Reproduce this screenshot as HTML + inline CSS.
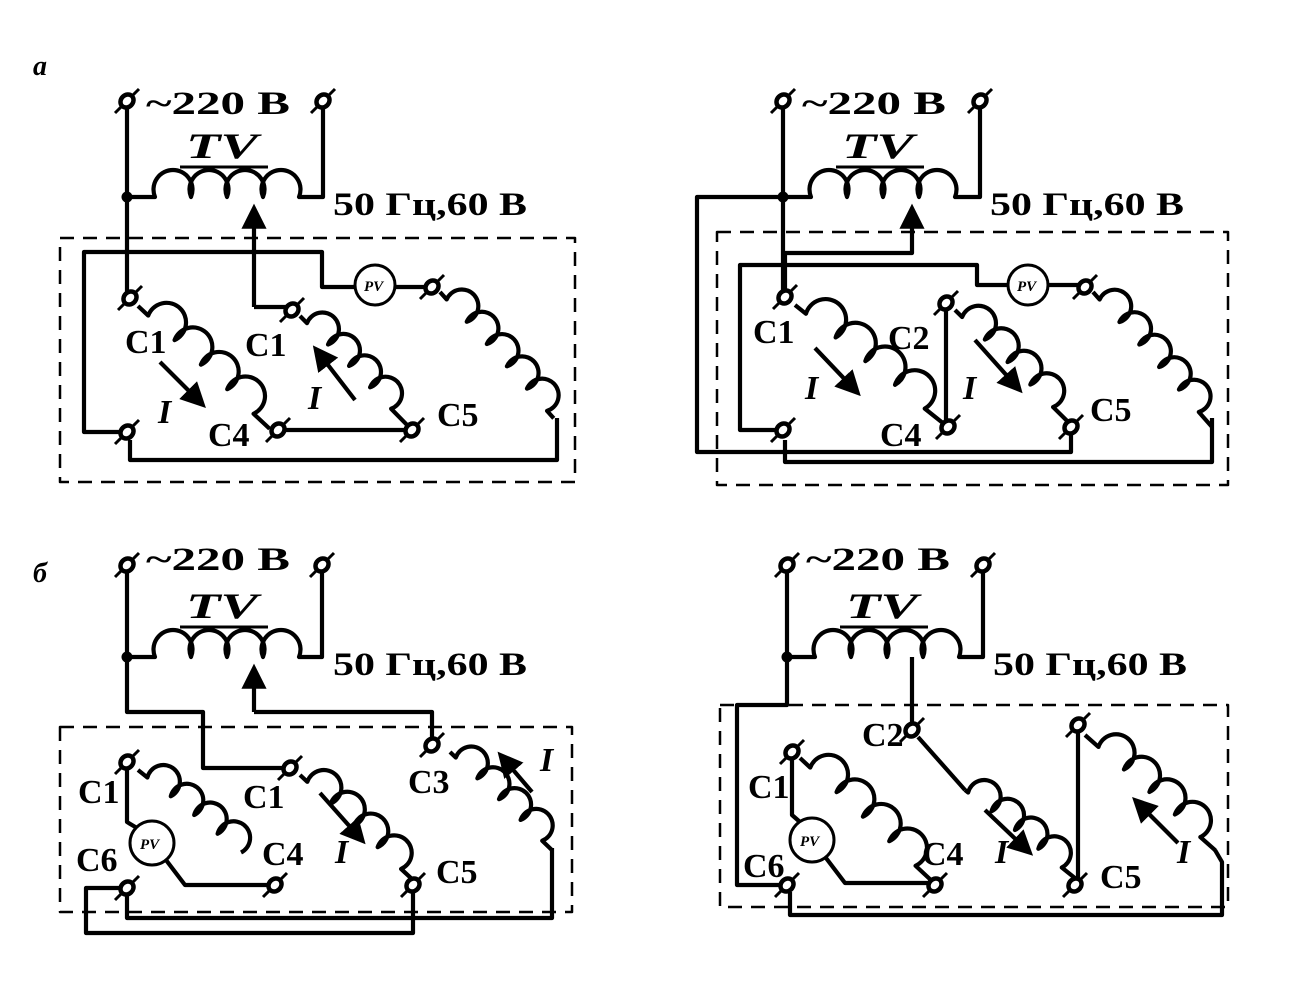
<!DOCTYPE html>
<html><head><meta charset="utf-8"><style>
html,body{margin:0;padding:0;background:#fff}
svg{display:block}
text{font-family:"Liberation Serif",serif;font-weight:bold;fill:#000}
.it{font-style:italic}
</style></head><body>
<svg width="1308" height="1008" viewBox="0 0 1308 1008" xmlns="http://www.w3.org/2000/svg">
<defs>
<marker id="ah" markerWidth="6" markerHeight="6" refX="4" refY="3" orient="auto" markerUnits="strokeWidth">
<path d="M0,0 L6,3 L0,6 z" fill="#000"/>
</marker>
<g id="t"><line x1="-12" y1="12" x2="12" y2="-12" stroke="#000" stroke-width="3"/><ellipse rx="7" ry="6" transform="rotate(-45)" fill="#fff" stroke="#000" stroke-width="4.5"/></g>
</defs>
<g fill="none" stroke="#000" stroke-width="4.2" stroke-linejoin="round">

<!-- ===== TOP LEFT ===== -->
<path d="M127,108 V297 M127,197 H155 a19.5 19.5 0 1 1 36 0 a19.5 19.5 0 1 1 36 0 a19.5 19.5 0 1 1 36 0 a19.5 19.5 0 1 1 36 0 H323 V108"/>
<path d="M254,307 V212" marker-end="url(#ah)"/>
<path d="M254,307 H290"/>
<path d="M127,432 H84 V252 H322 V287 H355 M395,287 H432"/>
<circle cx="375" cy="285" r="20" stroke-width="3"/>
<path transform="translate(440,292) rotate(48)" d="M0 0 h10 a16.5 16.5 0 1 1 30 0 a16.5 16.5 0 1 1 30 0 a16.5 16.5 0 1 1 30 0 a16.5 16.5 0 1 1 30 0 a16.5 16.5 0 1 1 30 0 h10"/>
<path d="M557,418 V460 H130 V440"/>
<path transform="translate(138,306) rotate(43)" d="M0 0 h14 a19.5 19.5 0 1 1 36 0 a19.5 19.5 0 1 1 36 0 a19.5 19.5 0 1 1 36 0 a19.5 19.5 0 1 1 36 0 h22"/>
<path transform="translate(300,316) rotate(45.5)" d="M0 0 h10 a16.5 16.5 0 1 1 30 0 a16.5 16.5 0 1 1 30 0 a16.5 16.5 0 1 1 30 0 a16.5 16.5 0 1 1 30 0 h22"/>
<path d="M278,430 H412"/>
<path d="M160,362 L200,402" marker-end="url(#ah)"/>
<path d="M355,400 L318,352" marker-end="url(#ah)"/>
<line x1="180" y1="167" x2="268" y2="167" stroke-width="3"/>
<rect x="60" y="238" width="515" height="244" stroke-width="2.5" stroke-dasharray="14 9"/>

<!-- ===== TOP RIGHT ===== -->
<path d="M783,108 V297 M783,197 H811 a19.5 19.5 0 1 1 36 0 a19.5 19.5 0 1 1 36 0 a19.5 19.5 0 1 1 36 0 a19.5 19.5 0 1 1 36 0 H980 V108"/>
<path d="M783,197 H697 V452 H1071 V432"/>
<path d="M785,297 V253 H912 V212" marker-end="url(#ah)"/>
<path d="M783,430 H740 V265 H977 V285 H1008 M1048,285 H1085"/>
<circle cx="1028" cy="285" r="20" stroke-width="3"/>
<path transform="translate(1093,292) rotate(48.6)" d="M0 0 h10 a16.5 16.5 0 1 1 30 0 a16.5 16.5 0 1 1 30 0 a16.5 16.5 0 1 1 30 0 a16.5 16.5 0 1 1 30 0 a16.5 16.5 0 1 1 30 0 h20"/>
<path d="M1212,418 V462 H785 V440"/>
<path transform="translate(795,305) rotate(38.6)" d="M0 0 h14 a20.5 20.5 0 1 1 38 0 a20.5 20.5 0 1 1 38 0 a20.5 20.5 0 1 1 38 0 a20.5 20.5 0 1 1 38 0 h26"/>
<path d="M946,303 V425"/>
<path transform="translate(955,310) rotate(44.7)" d="M0 0 h10 a17.5 17.5 0 1 1 32 0 a17.5 17.5 0 1 1 32 0 a17.5 17.5 0 1 1 32 0 a17.5 17.5 0 1 1 32 0 h25"/>
<path d="M815,348 L855,390" marker-end="url(#ah)"/>
<path d="M975,340 L1017,387" marker-end="url(#ah)"/>
<line x1="836" y1="167" x2="924" y2="167" stroke-width="3"/>
<rect x="717" y="232" width="511" height="253" stroke-width="2.5" stroke-dasharray="14 9"/>

<!-- ===== BOTTOM LEFT ===== -->
<path d="M127,572 V712 H203 V768 H285 M127,657 H155 a19.5 19.5 0 1 1 36 0 a19.5 19.5 0 1 1 36 0 a19.5 19.5 0 1 1 36 0 a19.5 19.5 0 1 1 36 0 H322 V572"/>
<path d="M254,712 V672" marker-end="url(#ah)"/>
<path d="M254,712 H432 V740"/>
<path d="M127,768 V822 L137,828"/>
<circle cx="152" cy="843" r="22" stroke-width="3"/>
<path d="M166,860 L185,885 H272"/>
<path transform="translate(138,770) rotate(38.7)" d="M0 0 h12 a16.5 16.5 0 1 1 30 0 a16.5 16.5 0 1 1 30 0 a16.5 16.5 0 1 1 30 0 a16.5 16.5 0 1 1 30 0"/>
<path transform="translate(300,775) rotate(42.9)" d="M0 0 h10 a17.5 17.5 0 1 1 32 0 a17.5 17.5 0 1 1 32 0 a17.5 17.5 0 1 1 32 0 a17.5 17.5 0 1 1 32 0 h16"/>
<path transform="translate(450,752) rotate(43.9)" d="M0 0 h8 a16.5 16.5 0 1 1 30 0 a16.5 16.5 0 1 1 30 0 a16.5 16.5 0 1 1 30 0 a16.5 16.5 0 1 1 30 0 h13"/>
<path d="M552,848 V918 H127 V895"/>
<path d="M127,888 H86 V933 H413 V890"/>
<path d="M320,793 L360,838" marker-end="url(#ah)"/>
<path d="M532,792 L503,758" marker-end="url(#ah)"/>
<line x1="180" y1="627" x2="268" y2="627" stroke-width="3"/>
<rect x="60" y="727" width="512" height="185" stroke-width="2.5" stroke-dasharray="14 9"/>

<!-- ===== BOTTOM RIGHT ===== -->
<path d="M787,572 V705 H737 V885 H783 M787,657 H815 a19.5 19.5 0 1 1 36 0 a19.5 19.5 0 1 1 36 0 a19.5 19.5 0 1 1 36 0 a19.5 19.5 0 1 1 36 0 H983 V572"/>
<path d="M912,657 V725"/>
<path d="M918,737 L965,790"/>
<path transform="translate(965,790) rotate(38.7)" d="M0 0 h4 a16.5 16.5 0 1 1 30 0 a16.5 16.5 0 1 1 30 0 a16.5 16.5 0 1 1 30 0 a16.5 16.5 0 1 1 30 0 h17"/>
<path d="M1078,730 V880"/>
<path transform="translate(1085,735) rotate(41.5)" d="M0 0 h18 a18.5 18.5 0 1 1 34 0 a18.5 18.5 0 1 1 34 0 a18.5 18.5 0 1 1 34 0 a18.5 18.5 0 1 1 34 0 h20"/>
<path d="M1215,850 L1222,862 V915 H790 V892"/>
<path d="M792,758 V815 L800,822"/>
<circle cx="812" cy="840" r="22" stroke-width="3"/>
<path d="M826,858 L845,883 H930"/>
<path transform="translate(800,758) rotate(43)" d="M0 0 h14 a19.5 19.5 0 1 1 36 0 a19.5 19.5 0 1 1 36 0 a19.5 19.5 0 1 1 36 0 a19.5 19.5 0 1 1 36 0 h20"/>
<path d="M985,810 L1027,850" marker-end="url(#ah)"/>
<path d="M1178,843 L1138,803" marker-end="url(#ah)"/>
<line x1="840" y1="627" x2="928" y2="627" stroke-width="3"/>
<rect x="720" y="705" width="508" height="202" stroke-width="2.5" stroke-dasharray="14 9"/>
</g>

<!-- junction dots -->
<g fill="#000">
<circle cx="127" cy="197" r="5.5"/><circle cx="783" cy="197" r="5.5"/>
<circle cx="127" cy="657" r="5.5"/><circle cx="787" cy="657" r="5.5"/>
</g>

<!-- terminals -->
<use href="#t" x="127" y="101"/><use href="#t" x="323" y="101"/>
<use href="#t" x="130" y="298"/><use href="#t" x="292" y="310"/>
<use href="#t" x="432" y="287"/><use href="#t" x="127" y="432"/>
<use href="#t" x="278" y="430"/><use href="#t" x="412" y="430"/>

<use href="#t" x="783" y="101"/><use href="#t" x="980" y="101"/>
<use href="#t" x="785" y="297"/><use href="#t" x="946" y="303"/>
<use href="#t" x="1085" y="287"/><use href="#t" x="783" y="430"/>
<use href="#t" x="948" y="427"/><use href="#t" x="1071" y="427"/>

<use href="#t" x="127" y="565"/><use href="#t" x="322" y="565"/>
<use href="#t" x="127" y="762"/><use href="#t" x="290" y="768"/>
<use href="#t" x="432" y="745"/><use href="#t" x="275" y="885"/>
<use href="#t" x="127" y="888"/><use href="#t" x="413" y="885"/>

<use href="#t" x="787" y="565"/><use href="#t" x="983" y="565"/>
<use href="#t" x="912" y="730"/><use href="#t" x="1078" y="725"/>
<use href="#t" x="792" y="752"/><use href="#t" x="935" y="885"/>
<use href="#t" x="787" y="885"/><use href="#t" x="1075" y="885"/>

<!-- text -->
<text x="33" y="75" font-size="28" class="it">а</text>
<text x="33" y="582" font-size="28" class="it">б</text>

<g font-size="33">
<text x="146" y="114" textLength="144" lengthAdjust="spacingAndGlyphs">~220 В</text>
<text x="802" y="114" textLength="144" lengthAdjust="spacingAndGlyphs">~220 В</text>
<text x="146" y="570" textLength="144" lengthAdjust="spacingAndGlyphs">~220 В</text>
<text x="806" y="570" textLength="144" lengthAdjust="spacingAndGlyphs">~220 В</text>
<text x="333" y="215" textLength="194" lengthAdjust="spacingAndGlyphs">50 Гц,60 В</text>
<text x="990" y="215" textLength="194" lengthAdjust="spacingAndGlyphs">50 Гц,60 В</text>
<text x="333" y="675" textLength="194" lengthAdjust="spacingAndGlyphs">50 Гц,60 В</text>
<text x="993" y="675" textLength="194" lengthAdjust="spacingAndGlyphs">50 Гц,60 В</text>
</g>
<g font-size="36">
<text x="186" y="158" class="it" textLength="72" lengthAdjust="spacingAndGlyphs">TV</text>
<text x="842" y="158" class="it" textLength="72" lengthAdjust="spacingAndGlyphs">TV</text>
<text x="186" y="618" class="it" textLength="72" lengthAdjust="spacingAndGlyphs">TV</text>
<text x="846" y="618" class="it" textLength="72" lengthAdjust="spacingAndGlyphs">TV</text>
</g>
<g font-size="34">
<text x="125" y="353">C1</text><text x="245" y="356">C1</text>
<text x="208" y="446">C4</text><text x="437" y="426">C5</text>
<text x="158" y="423" class="it">I</text><text x="308" y="409" class="it">I</text>

<text x="753" y="343">C1</text><text x="888" y="349">C2</text>
<text x="880" y="446">C4</text><text x="1090" y="421">C5</text>
<text x="805" y="399" class="it">I</text><text x="963" y="399" class="it">I</text>

<text x="78" y="803">C1</text><text x="243" y="808">C1</text>
<text x="408" y="793">C3</text><text x="262" y="865">C4</text>
<text x="436" y="883">C5</text><text x="76" y="871">C6</text>
<text x="335" y="863" class="it">I</text><text x="540" y="771" class="it">I</text>

<text x="748" y="798">C1</text><text x="862" y="746">C2</text>
<text x="922" y="865">C4</text><text x="1100" y="888">C5</text>
<text x="743" y="877">C6</text>
<text x="995" y="863" class="it">I</text><text x="1177" y="863" class="it">I</text>
</g>
<g font-size="15">
<text x="364" y="291" class="it">PV</text><text x="1017" y="291" class="it">PV</text>
<text x="140" y="849" class="it">PV</text><text x="800" y="846" class="it">PV</text>
</g>
</svg>
</body></html>
